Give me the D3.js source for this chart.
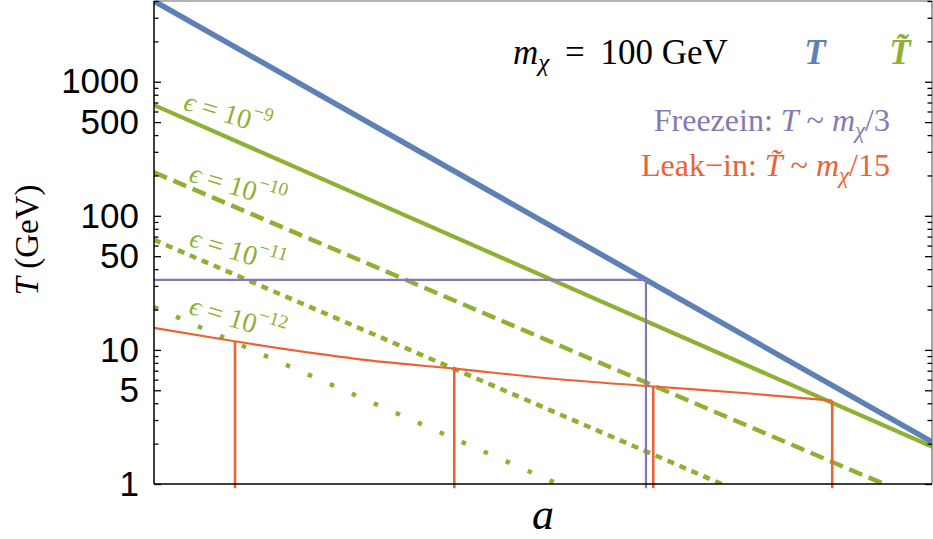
<!DOCTYPE html>
<html><head><meta charset="utf-8">
<script src="https://cdn.jsdelivr.net/npm/d3@7"></script>
<style>
html,body{margin:0;padding:0;background:#fff;}
svg{display:block;}
</style></head>
<body>
<svg id="c" width="933" height="539"></svg>
<script>
// ---- data ----
const aDomain = [1, 1941];
const TDomain = [1, 4000];
const yTickLabels = [1, 5, 10, 50, 100, 500, 1000];
const yMinorTicks = [2,3,4,6,7,8,9,20,30,40,60,70,80,90,200,300,400,600,700,800,900,2000,3000,4000];
const blueT = [[1, 4000], [1941, 2.06]];
const eps9 = [[1, 670], [1941, 1.90]];
const eps10 = [[1, 211], [1216, 1]];
const eps11 = [[1, 66.2], [251, 1]];
const eps12 = [[1, 20.9], [51, 1]];
const leakCurve = [[1,14.6],[2.157,11.65],[4.885,9.39],[9.29,8.13],[18.52,7.26],[47.2,6.12],[124.8,5.36],[330,4.73],[735,4.18]];
const leakDrops = [[2.2,11.65],[18.58,7.26],[128.8,5.33],[735,4.18]];
const freezePath = [[1,33.3],[120,33.3],[120,0.93]];
const dropBottomT = 0.93;
const labelAnchors = [[2.05,586,"\u22129"],[2.26,167,"\u221210"],[2.26,55,"\u221211"],[2.26,17.2,"\u221212"]];

// ---- colours / fonts ----
const BLUE="#5E81B5", GREEN="#8FB032", RED="#EB6235", PURPLE="#8778B3";
const SERIF = "Liberation Serif";
const SANS = "Liberation Sans";

const svg = d3.select("#c");
const x = d3.scaleLog().domain(aDomain).range([154, 932]);
const y = d3.scaleLog().domain(TDomain).range([484, 1]);

svg.append("defs").append("clipPath").attr("id","clip")
  .append("rect").attr("x",154).attr("y",1).attr("width",778).attr("height",483);

const line = d3.line().x(d=>x(d[0])).y(d=>y(d[1]));
const g = svg.append("g");
const gc = g.append("g").attr("clip-path","url(#clip)");

// frame (top/right)
g.append("line").attr("x1",154).attr("x2",932).attr("y1",1).attr("y2",1).attr("stroke","#666").attr("stroke-width",1.2);
g.append("line").attr("x1",932).attr("x2",932).attr("y1",1).attr("y2",484).attr("stroke","#666").attr("stroke-width",1.2);

// green lines
const greens = [[eps9,null,4.2],[eps10,"14,7",4.5],[eps11,"7,6",4.5],[eps12,"4.5,19.5",4.5]];
greens.forEach(([d,dash,w])=>{
  const p = gc.append("path").datum(d).attr("d",line).attr("fill","none")
    .attr("stroke",GREEN).attr("stroke-width",w);
  if(dash) p.attr("stroke-dasharray",dash);
});

// blue
gc.append("path").datum(blueT).attr("d",line).attr("fill","none").attr("stroke",BLUE).attr("stroke-width",5.5);

// purple freeze
g.append("path").datum(freezePath).attr("d",line).attr("fill","none").attr("stroke",PURPLE).attr("stroke-width",2.2);

// red leak curve
g.append("path").datum(leakCurve).attr("d",d3.line().x(d=>x(d[0])).y(d=>y(d[1])).curve(d3.curveMonotoneX))
  .attr("fill","none").attr("stroke",RED).attr("stroke-width",2.2);
g.selectAll(".drop").data(leakDrops).enter().append("line")
  .attr("x1",d=>x(d[0])).attr("x2",d=>x(d[0]))
  .attr("y1",d=>y(d[1])).attr("y2",y(dropBottomT))
  .attr("stroke",RED).attr("stroke-width",2.6);

// axes
const yAxisL = d3.axisLeft(y).tickValues(yTickLabels).tickFormat(d3.format("d")).tickSize(-7).tickPadding(15);
const axL = g.append("g").attr("transform","translate(154,0)").call(yAxisL);
axL.select(".domain").remove();
axL.selectAll("text").attr("font-family",SANS).attr("font-size",35).attr("fill","#000");
axL.selectAll("line").attr("stroke","#000").attr("stroke-width",1.3);
const axLm = g.append("g").attr("transform","translate(154,0)").call(d3.axisLeft(y).tickValues(yMinorTicks).tickFormat("").tickSize(-4.5));
axLm.select(".domain").remove();
axLm.selectAll("line").attr("stroke","#000").attr("stroke-width",1.3);
const axR = g.append("g").attr("transform","translate(932,0)").call(d3.axisRight(y).tickValues(yTickLabels).tickFormat("").tickSize(-7));
axR.select(".domain").remove();
axR.selectAll("line").attr("stroke","#000").attr("stroke-width",1.3);
const axRm = g.append("g").attr("transform","translate(932,0)").call(d3.axisRight(y).tickValues(yMinorTicks).tickFormat("").tickSize(-4.5));
axRm.select(".domain").remove();
axRm.selectAll("line").attr("stroke","#000").attr("stroke-width",1.3);
g.append("line").attr("x1",154).attr("x2",154).attr("y1",1).attr("y2",484).attr("stroke","#000").attr("stroke-width",1.5);
g.append("line").attr("x1",154).attr("x2",932).attr("y1",484).attr("y2",484).attr("stroke","#000").attr("stroke-width",1.5);

// axis titles
const yl = svg.append("text").attr("font-family",SERIF).attr("font-size",33)
  .attr("transform","translate(38,240) rotate(-90)").attr("text-anchor","middle");
yl.append("tspan").attr("font-style","italic").text("T");
yl.append("tspan").text(" (GeV)");
svg.append("text").attr("font-family",SERIF).attr("font-size",44).attr("font-style","italic")
  .attr("x",543).attr("y",529).attr("text-anchor","middle").text("a");

// epsilon labels
labelAnchors.forEach(([a,T,ex])=>{
  const t = svg.append("text").attr("font-family",SERIF).attr("fill",GREEN).attr("font-size",28)
    .attr("text-anchor","middle").attr("dominant-baseline","central")
    .attr("transform",`translate(${x(a)},${y(T)}) rotate(17)`);
  t.append("tspan").attr("font-style","italic").text("\u03F5");
  t.append("tspan").text(" = 10");
  t.append("tspan").attr("font-size",19).attr("dy",-11).text(ex);
});

// legend texts
const m = svg.append("text").attr("font-family",SERIF).attr("font-size",35).attr("x",513).attr("y",64);
m.append("tspan").attr("font-style","italic").text("m");
m.append("tspan").attr("font-style","italic").attr("font-size",25).attr("dy",7).text("\u03C7");
m.append("tspan").attr("dy",-7).text("\u2009 = \u2009100 GeV");
svg.append("text").attr("font-family",SERIF).attr("font-size",35).attr("font-style","italic").attr("font-weight","bold")
  .attr("fill",BLUE).attr("x",815).attr("y",64).attr("text-anchor","middle").text("T");
svg.append("text").attr("font-family",SERIF).attr("font-size",35).attr("font-style","italic").attr("font-weight","bold")
  .attr("fill",GREEN).attr("x",900).attr("y",64).attr("text-anchor","middle").text("T\u0303");

const f = svg.append("text").attr("font-family",SERIF).attr("font-size",32).attr("fill",PURPLE).attr("x",890).attr("y",131).attr("text-anchor","end");
f.append("tspan").text("Freezein:  ");
f.append("tspan").attr("font-style","italic").text("T");
f.append("tspan").text(" ~ ");
f.append("tspan").attr("font-style","italic").text("m");
f.append("tspan").attr("font-style","italic").attr("font-size",23).attr("dy",7).text("\u03C7");
f.append("tspan").attr("dy",-7).text("/3");

const l = svg.append("text").attr("font-family",SERIF).attr("font-size",32).attr("fill",RED).attr("x",890).attr("y",176).attr("text-anchor","end");
l.append("tspan").text("Leak\u2212in:  ");
l.append("tspan").attr("font-style","italic").text("T\u0303");
l.append("tspan").text(" ~ ");
l.append("tspan").attr("font-style","italic").text("m");
l.append("tspan").attr("font-style","italic").attr("font-size",23).attr("dy",7).text("\u03C7");
l.append("tspan").attr("dy",-7).text("/15");
</script>
</body></html>
